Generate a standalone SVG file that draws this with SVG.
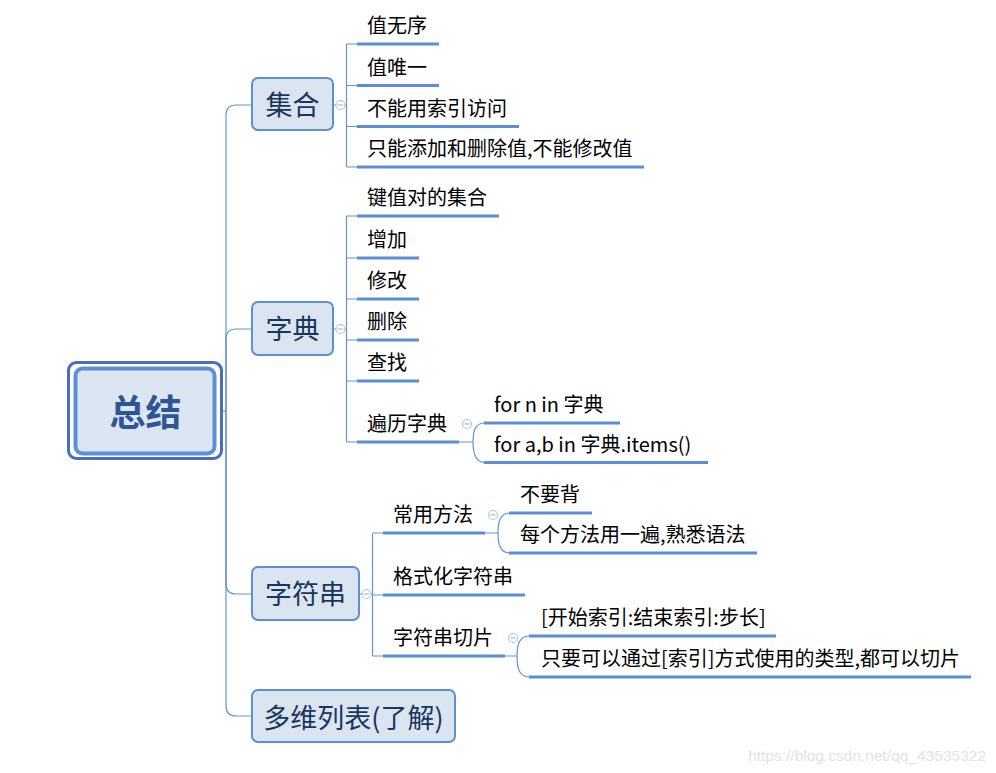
<svg xmlns="http://www.w3.org/2000/svg" width="996" height="773" viewBox="0 0 996 773">
<style>
.box{fill:#dbe5f1;stroke:#5b8fd6;stroke-width:2}
.nt{font-family:"Noto Sans CJK SC","Microsoft YaHei",sans-serif;font-size:27px;fill:#1b365d;text-anchor:middle}
.ct{font-family:"Noto Sans CJK SC","Microsoft YaHei",sans-serif;font-size:20px;fill:#000}
.ul{stroke:#5a8ed5;stroke-width:3;fill:none}
.cn{stroke:#6393d8;stroke-width:1.2;fill:none}
.cc{fill:#fff;stroke:#b4c6ea;stroke-width:1.2}
.cm{stroke:#9fb5e3;stroke-width:1.2}
</style>
<rect width="996" height="773" fill="#fff"/>
<g id="connectors">
<path class="cn" d="M222,411 H226"/>
<path class="cn" d="M226,411 V115 Q226,105 236,105 H252"/>
<path class="cn" d="M226,411 V339 Q226,329 236,329 H252"/>
<path class="cn" d="M226,411 V584 Q226,594 236,594 H252"/>
<path class="cn" d="M226,411 V706 Q226,716 236,716 H252"/>
<!-- 集合 children -->
<path class="cn" d="M333,105 H346.5 M346.5,44 V167 M346.5,44 H357 M346.5,85.5 H357 M346.5,126.5 H357 M346.5,167 H357"/>
<!-- 字典 children -->
<path class="cn" d="M333,329 H346.5 M346.5,216 V442 M346.5,216 H357 M346.5,258 H357 M346.5,299 H357 M346.5,340 H357 M346.5,381 H357 M346.5,442 H357"/>
<path class="cn" d="M459,442 H473 M473,442 C473,429 476,423 485,423 M473,442 C473,455 476,462.5 485,462.5"/>
<!-- 字符串 children -->
<path class="cn" d="M359,594 H372.5 M372.5,533 V656 M372.5,533 H383 M372.5,595 H383 M372.5,656 H383"/>
<path class="cn" d="M485,533 H498 M498,533 C498,520 501,513 510,513 M498,533 C498,546 501,553 510,553"/>
<path class="cn" d="M505,656 H517 M517,656 C517,643 520,636 530,636 M517,656 C517,670 520,677 530,677"/>
<!-- collapse markers -->
<circle class="cc" cx="340.5" cy="105" r="4.5"/><path class="cm" d="M338,105 H343"/>
<circle class="cc" cx="340.5" cy="329" r="4.5"/><path class="cm" d="M338,329 H343"/>
<circle class="cc" cx="366.5" cy="594" r="4.5"/><path class="cm" d="M364,594 H369"/>
<circle class="cc" cx="467" cy="424" r="4.5"/><path class="cm" d="M464.5,424 H469.5"/>
<circle class="cc" cx="493" cy="515" r="4.5"/><path class="cm" d="M490.5,515 H495.5"/>
<circle class="cc" cx="513" cy="638" r="4.5"/><path class="cm" d="M510.5,638 H515.5"/>
</g>
<g id="root">
<rect x="68.5" y="362.5" width="153" height="96" rx="8" fill="#fff" stroke="#4a6dbd" stroke-width="3"/>
<rect x="75.5" y="368.5" width="139" height="85" rx="7" fill="#dce6f2" stroke="#5b8fd6" stroke-width="4"/>
<text x="145.5" y="426" font-family="Noto Sans CJK SC,Microsoft YaHei,sans-serif" font-size="36" font-weight="bold" fill="#2e5694" text-anchor="middle">总结</text>
</g>
<g id="n-jihe"><rect class="box" x="252" y="78" width="81" height="52" rx="6"/><text class="nt" x="292.5" y="115">集合</text></g>
<g id="n-zidian"><rect class="box" x="252" y="302" width="81" height="53" rx="6"/><text class="nt" x="292.5" y="339">字典</text></g>
<g id="n-zifuchuan"><rect class="box" x="252" y="567" width="107" height="53" rx="6"/><text class="nt" x="305.5" y="604">字符串</text></g>
<g id="n-duowei"><rect class="box" x="252" y="690" width="203" height="52" rx="6"/><text class="nt" x="353.5" y="728">多维列表(了解)</text></g>
<g id="c1"><text class="ct" x="367" y="33">值无序</text><path class="ul" d="M357,44 H439"/></g>
<g id="c2"><text class="ct" x="367" y="74.5">值唯一</text><path class="ul" d="M357,85.5 H439"/></g>
<g id="c3"><text class="ct" x="367" y="115.5">不能用索引访问</text><path class="ul" d="M357,126.5 H519"/></g>
<g id="c4"><text class="ct" x="367" y="156">只能添加和删除值,不能修改值</text><path class="ul" d="M357,167 H644"/></g>
<g id="d1"><text class="ct" x="367" y="205">键值对的集合</text><path class="ul" d="M357,216 H499"/></g>
<g id="d2"><text class="ct" x="367" y="247">增加</text><path class="ul" d="M357,258 H419"/></g>
<g id="d3"><text class="ct" x="367" y="288">修改</text><path class="ul" d="M357,299 H419"/></g>
<g id="d4"><text class="ct" x="367" y="329">删除</text><path class="ul" d="M357,340 H419"/></g>
<g id="d5"><text class="ct" x="367" y="370">查找</text><path class="ul" d="M357,381 H419"/></g>
<g id="d6"><text class="ct" x="367" y="431">遍历字典</text><path class="ul" d="M357,442 H459"/></g>
<g id="d6a"><text class="ct" x="494" y="412">for n in 字典</text><path class="ul" d="M484,423 H620"/></g>
<g id="d6b"><text class="ct" x="494" y="451.5">for a,b in 字典.items()</text><path class="ul" d="M484,462.5 H708"/></g>
<g id="s1"><text class="ct" x="393" y="522">常用方法</text><path class="ul" d="M383,533 H485"/></g>
<g id="s1a"><text class="ct" x="520" y="502">不要背</text><path class="ul" d="M509,513 H592"/></g>
<g id="s1b"><text class="ct" x="520" y="542">每个方法用一遍,熟悉语法</text><path class="ul" d="M509,553 H757"/></g>
<g id="s2"><text class="ct" x="393" y="584">格式化字符串</text><path class="ul" d="M383,595 H525"/></g>
<g id="s3"><text class="ct" x="393" y="645">字符串切片</text><path class="ul" d="M383,656 H505"/></g>
<g id="s3a"><text class="ct" x="541" y="625">[开始索引:结束索引:步长]</text><path class="ul" d="M529,636 H776"/></g>
<g id="s3b"><text class="ct" x="541" y="666">只要可以通过[索引]方式使用的类型,都可以切片</text><path class="ul" d="M529,677 H971"/></g>
<text x="986" y="761" font-family="Liberation Sans,Arial,sans-serif" font-size="15.5" fill="#e2e2e2" text-anchor="end">https://blog.csdn.net/qq_43535322</text>
</svg>
